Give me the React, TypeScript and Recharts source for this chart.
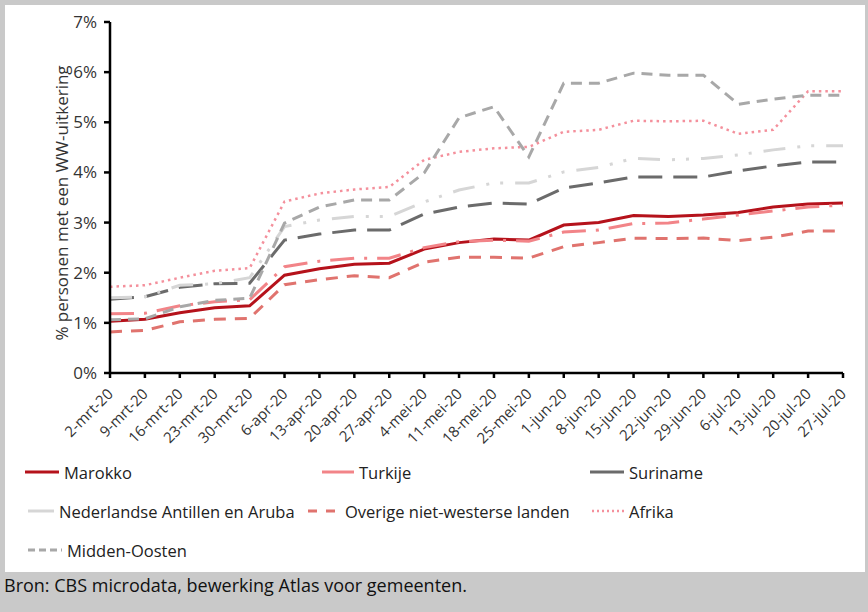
import { LineChart, Line, XAxis, YAxis } from 'recharts';

const categories = [
  '2-mrt-20', '9-mrt-20', '16-mrt-20', '23-mrt-20', '30-mrt-20', '6-apr-20', '13-apr-20',
  '20-apr-20', '27-apr-20', '4-mei-20', '11-mei-20', '18-mei-20', '25-mei-20', '1-jun-20',
  '8-jun-20', '15-jun-20', '22-jun-20', '29-jun-20', '6-jul-20', '13-jul-20', '20-jul-20', '27-jul-20',
];

const marokko = [1.03, 1.07, 1.2, 1.3, 1.34, 1.95, 2.08, 2.17, 2.19, 2.47, 2.6, 2.67, 2.65, 2.95, 3.0, 3.14, 3.12, 3.15, 3.2, 3.31, 3.37, 3.39];
const turkije = [1.18, 1.19, 1.34, 1.42, 1.46, 2.12, 2.23, 2.29, 2.29, 2.5, 2.62, 2.65, 2.63, 2.81, 2.85, 2.98, 2.99, 3.07, 3.15, 3.23, 3.31, 3.35];
const suriname = [1.47, 1.52, 1.71, 1.78, 1.79, 2.65, 2.77, 2.85, 2.85, 3.17, 3.31, 3.39, 3.37, 3.69, 3.79, 3.91, 3.91, 3.91, 4.03, 4.13, 4.21, 4.21];
const antillen = [1.5, 1.52, 1.75, 1.78, 1.9, 2.92, 3.05, 3.12, 3.12, 3.41, 3.65, 3.79, 3.79, 4.01, 4.1, 4.28, 4.25, 4.28, 4.35, 4.45, 4.53, 4.53];
const overige = [0.82, 0.85, 1.02, 1.07, 1.09, 1.76, 1.86, 1.94, 1.9, 2.21, 2.31, 2.31, 2.29, 2.52, 2.6, 2.69, 2.68, 2.69, 2.64, 2.71, 2.83, 2.83];
const afrika = [1.72, 1.75, 1.9, 2.04, 2.09, 3.42, 3.58, 3.66, 3.71, 4.25, 4.41, 4.48, 4.51, 4.81, 4.85, 5.03, 5.02, 5.03, 4.77, 4.85, 5.62, 5.62];
const middenOosten = [1.06, 1.08, 1.32, 1.45, 1.49, 2.99, 3.31, 3.45, 3.45, 3.99, 5.09, 5.31, 4.31, 5.78, 5.78, 5.98, 5.94, 5.94, 5.36, 5.46, 5.54, 5.54];

const yTicks = [0, 1, 2, 3, 4, 5, 6, 7];

const FONT = '"Open Sans", sans-serif';

const series = [
  { key: 'Marokko', values: marokko, color: '#b5121b', width: 3, dash: undefined, legendDash: undefined },
  { key: 'Turkije', values: turkije, color: '#f28488', width: 3, dash: '24 10 3 10', legendDash: undefined },
  { key: 'Suriname', values: suriname, color: '#6b6b6b', width: 3, dash: '24 11', legendDash: undefined },
  { key: 'Nederlandse Antillen en Aruba', values: antillen, color: '#d6d6d6', width: 3, dash: '22 12 3 11 3 12', legendDash: undefined },
  { key: 'Overige niet-westerse landen', values: overige, color: '#e0736e', width: 3, dash: '12 9', legendDash: '9 9' },
  { key: 'Afrika', values: afrika, color: '#f4909c', width: 2.5, dash: '2.5 4', legendDash: '2 3' },
  { key: 'Midden-Oosten', values: middenOosten, color: '#a8a8a8', width: 3, dash: '11 7', legendDash: '7 4' },
];

const data = categories.map((c, i) => {
  const row: Record<string, string | number> = { week: c };
  series.forEach((s) => { row[s.key] = s.values[i]; });
  return row;
});

// legend placement, Excel-style rows
const legendSpots = [
  { left: 20, top: 455, sample: 34 },
  { left: 317, top: 455, sample: 32 },
  { left: 585, top: 455, sample: 34 },
  { left: 23, top: 494, sample: 26 },
  { left: 303, top: 494, sample: 32 },
  { left: 587, top: 494, sample: 32 },
  { left: 23, top: 533, sample: 34 },
];

const XTick = (props: any) => {
  const { x, y, payload } = props;
  const ax = x + 4;
  const ay = y + 15;
  return (
    <text
      x={ax}
      y={ay}
      textAnchor="end"
      transform={`rotate(-45 ${ax} ${ay})`}
      fontSize={15}
      fontFamily={FONT}
      fill="#333"
    >
      {payload.value}
    </text>
  );
};

const YTitle = () => {
  const cx = 56;
  const cy = 198;
  return (
    <text
      x={cx}
      y={cy}
      textAnchor="middle"
      dominantBaseline="central"
      transform={`rotate(-90 ${cx} ${cy})`}
      fontSize={17}
      fontFamily={FONT}
      fill="#333"
    >
      % personen met een WW-uitkering
    </text>
  );
};

export default function App() {
  return (
    <div style={{ position: 'fixed', left: 0, top: 0, width: 868, height: 612, background: '#c9c9c9', fontFamily: FONT }}>
      <div style={{ position: 'absolute', left: 5, top: 5, width: 860, height: 567, background: '#fff' }}>
        <LineChart width={860} height={460} data={data} margin={{ top: 17, right: 22, bottom: 20, left: 0 }}>
          <XAxis
            dataKey="week"
            interval={0}
            height={72}
            stroke="#000"
            strokeWidth={2.5}
            tickSize={5}
            tick={<XTick />}
          />
          <YAxis
            width={105}
            domain={[0, 7]}
            ticks={yTicks}
            tickFormatter={(v: number) => `${v}%`}
            stroke="#000"
            strokeWidth={2.5}
            tickSize={6}
            tickMargin={7}
            tick={{ fontSize: 17, fontFamily: FONT, fill: '#333' }}
            label={<YTitle />}
          />
          {series.map((s) => (
            <Line
              key={s.key}
              type="linear"
              dataKey={s.key}
              stroke={s.color}
              strokeWidth={s.width}
              strokeDasharray={s.dash}
              dot={false}
              activeDot={false}
              isAnimationActive={false}
            />
          ))}
        </LineChart>
        {series.map((s, i) => {
          const spot = legendSpots[i];
          return (
            <div key={s.key} style={{ position: 'absolute', left: spot.left, top: spot.top, display: 'flex', alignItems: 'center', height: 24 }}>
              <svg width={spot.sample} height={6} style={{ marginRight: 5 }}>
                <line
                  x1={0}
                  y1={3}
                  x2={spot.sample}
                  y2={3}
                  stroke={s.color}
                  strokeWidth={s.width}
                  strokeDasharray={s.legendDash}
                />
              </svg>
              <span style={{ fontSize: 16.5, color: '#222', whiteSpace: 'nowrap' }}>{s.key}</span>
            </div>
          );
        })}
      </div>
      <div style={{ position: 'absolute', left: 4, top: 573, fontSize: 18, color: '#111' }}>
        Bron: CBS microdata, bewerking Atlas voor gemeenten.
      </div>
    </div>
  );
}
